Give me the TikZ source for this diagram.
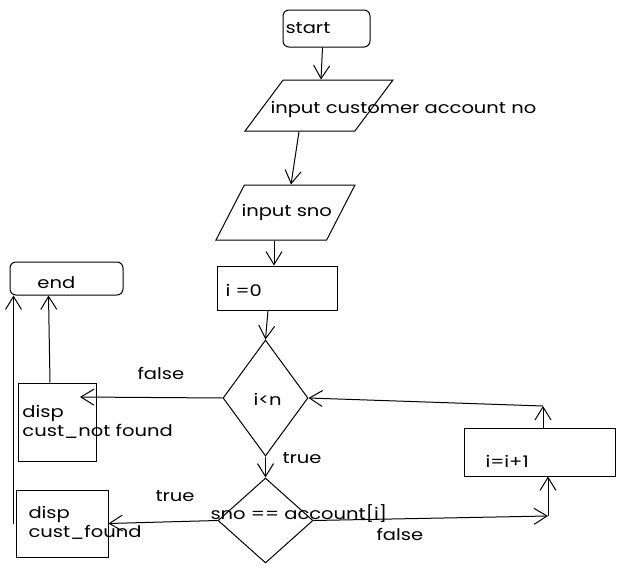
\documentclass[tikz,border=0pt]{standalone}
\usepackage{fontspec}
\setmainfont[FakeStretch=1.22]{Poppins}
\usetikzlibrary{shapes.geometric,arrows.meta}
\begin{document}
\begin{tikzpicture}[x=1pt,y=-1pt, line width=1pt,
  box/.style={draw, rectangle, inner sep=0pt},
  rbox/.style={draw, rectangle, rounded corners=6pt, inner sep=0pt},
  io/.style={draw, trapezium, trapezium stretches=true, inner sep=2pt},
  dec/.style={draw, diamond, inner sep=0pt},
  lbl/.style={anchor=west, inner sep=0pt, font=\fontsize{16}{19}\selectfont},
  arr/.style={-{Straight Barb[length=13pt,width=16pt]}},
]
\useasboundingbox (0,0) rectangle (625,573);
\fill[white] (0,0) rectangle (625,573);

% shapes
\node[rbox, minimum width=87pt, minimum height=37pt] (start) at (326.5,28.5) {};
\node[io, minimum width=148pt, minimum height=51pt, trapezium left angle=62, trapezium right angle=118] (p1) at (319,105.5) {};
\node[io, minimum width=139pt, minimum height=55pt, trapezium left angle=71, trapezium right angle=109] (p2) at (285.5,212.5) {};
\node[box, minimum width=120pt, minimum height=44pt] (i0) at (277,288) {};
\node[dec, minimum width=85pt, minimum height=116pt] (d1) at (265.5,398) {};
\node[dec, minimum width=95pt, minimum height=85pt] (d2) at (265.5,520.5) {};
\node[box, minimum width=151pt, minimum height=48pt] (inc) at (539.5,452) {};
\node[box, minimum width=78pt, minimum height=78pt] (nf) at (57,422) {};
\node[box, minimum width=92pt, minimum height=67pt] (fd) at (62,523.5) {};
\node[rbox, minimum width=113pt, minimum height=33pt] (end) at (66.5,278.5) {};

% texts
\node[lbl] (tstart) at (285,28) {start};
\node[lbl] (tp1) at (270,109) {input customer account no};
\node[lbl] (tp2) at (241,212) {input sno};
\node[lbl] (ti0) at (225,290) {i =0};
\node[lbl] (tend) at (37,283) {end};
\node[lbl] (tfalse1) at (137,373) {false};
\node[lbl, align=left] (tnf) at (22,422) {disp\\cust\_not found};
\node[lbl] (td1) at (253,399) {i<n};
\node[lbl] (ttrue1) at (282,458) {true};
\node[lbl] (ttrue2) at (155,496) {true};
\node[lbl] (td2) at (210,514) {sno == account[i]};
\node[lbl, align=left] (tfd) at (28,523) {disp\\cust\_found};
\node[lbl] (tfalse2) at (376,534) {false};
\node[lbl] (tinc) at (485,461) {i=i+1};

% coordinates
\coordinate (nfin) at (80,397);
\coordinate (c2) at (548,516);
\coordinate (c1) at (543,406);

% connectors
\draw[arr] ([xshift=-4pt]start.south) -- ([xshift=2pt]p1.north);
\draw[arr] ([xshift=-20pt]p1.south) -- ([xshift=5.5pt]p2.north);
\draw[arr] ([xshift=-11.5pt]p2.south) -- ([xshift=-3pt]i0.north);
\draw[arr] ([xshift=-9pt]i0.south) -- (d1.north);
\draw[arr] (d1.south) -- (d2.north);
\draw[arr] (d1.west) -- (nfin);
\draw[arr] (d2.west) -- (fd.east);
\draw[arr] ([xshift=-7pt]nf.north) -- ([xshift=-18pt]end.south);
\draw[arr] ([xshift=-2pt]fd.west) -- ([xshift=-2pt]fd.west |- end.south);
\draw[arr] (d2.east) -- (c2);
\draw[arr] (c2) -- (c2 |- inc.south);
\draw[arr] (c1 |- inc.north) -- (c1);
\draw[arr] (c1) -- (d1.east);
\end{tikzpicture}
\end{document}
